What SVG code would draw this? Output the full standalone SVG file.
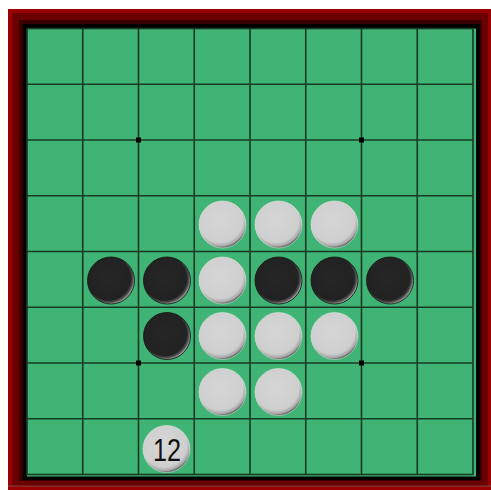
<svg xmlns="http://www.w3.org/2000/svg" width="491" height="490" viewBox="0 0 491 490">
<defs>
<radialGradient id="wg" cx="0.45" cy="0.4" r="0.6">
<stop offset="0" stop-color="#d6d6d6"/>
<stop offset="0.8" stop-color="#cfcfcf"/>
<stop offset="0.93" stop-color="#a8a8a8"/>
<stop offset="1" stop-color="#5a5a5a"/>
</radialGradient>
<radialGradient id="bg" cx="0.45" cy="0.45" r="0.55">
<stop offset="0" stop-color="#262626"/>
<stop offset="0.85" stop-color="#222"/>
<stop offset="0.94" stop-color="#555"/>
<stop offset="1" stop-color="#999"/>
</radialGradient>
<style>
.w{fill:url(#wg);stroke:#f2f2f2;stroke-width:0.8;stroke-opacity:0.6}
.b{fill:url(#bg);stroke:#111;stroke-width:0.8}
.g{stroke:#183a24;stroke-width:1.6;fill:none}
.d{fill:#000}
</style>
</defs>
<rect x="8" y="9" width="483" height="481" fill="#990000"/>
<rect x="12" y="13" width="476" height="473" fill="#6a0000"/>
<rect x="19" y="20" width="463" height="461" fill="#3a0000"/>
<rect x="23" y="24" width="457" height="456" fill="#000"/>
<line x1="8" y1="486" x2="491" y2="486" stroke="#7a7a7a" stroke-width="1" opacity="0.6"/>
<rect x="27" y="28.5" width="449" height="448" fill="#3fb474"/>
<g id="grid">
<rect class="g" x="27" y="28.5" width="446" height="446"/>
<path class="g" d="M82.75 28.5V474.5M138.5 28.5V474.5M194.25 28.5V474.5M250 28.5V474.5M305.75 28.5V474.5M361.5 28.5V474.5M417.25 28.5V474.5M27 84.25H473M27 140H473M27 195.75H473M27 251.5H473M27 307.25H473M27 363H473M27 418.75H473"/>
<rect class="d" x="136" y="137.5" width="5" height="5"/>
<rect class="d" x="359" y="137.5" width="5" height="5"/>
<rect class="d" x="136" y="360.5" width="5" height="5"/>
<rect class="d" x="359" y="360.5" width="5" height="5"/>
</g>
<g id="discs">
<circle class="w" cx="222.5" cy="224.5" r="23.5"/>
<circle class="w" cx="278.5" cy="224.5" r="23.5"/>
<circle class="w" cx="334.5" cy="224.5" r="23.5"/>
<circle class="b" cx="111" cy="280.5" r="23.5"/>
<circle class="b" cx="167" cy="280.5" r="23.5"/>
<circle class="w" cx="222.5" cy="280.5" r="23.5"/>
<circle class="b" cx="278.5" cy="280.5" r="23.5"/>
<circle class="b" cx="334.5" cy="280.5" r="23.5"/>
<circle class="b" cx="390" cy="280.5" r="23.5"/>
<circle class="b" cx="167" cy="336" r="23.5"/>
<circle class="w" cx="222.5" cy="336" r="23.5"/>
<circle class="w" cx="278.5" cy="336" r="23.5"/>
<circle class="w" cx="334.5" cy="336" r="23.5"/>
<circle class="w" cx="222.5" cy="392" r="23.5"/>
<circle class="w" cx="278.5" cy="392" r="23.5"/>
<g id="move12">
<circle class="w" cx="166.5" cy="449" r="23.5"/>
<text x="167" y="461" text-anchor="middle" font-family="Liberation Sans, Arial, sans-serif" font-size="32" textLength="28" lengthAdjust="spacingAndGlyphs" fill="#111">12</text>
</g>
</g>
</svg>
